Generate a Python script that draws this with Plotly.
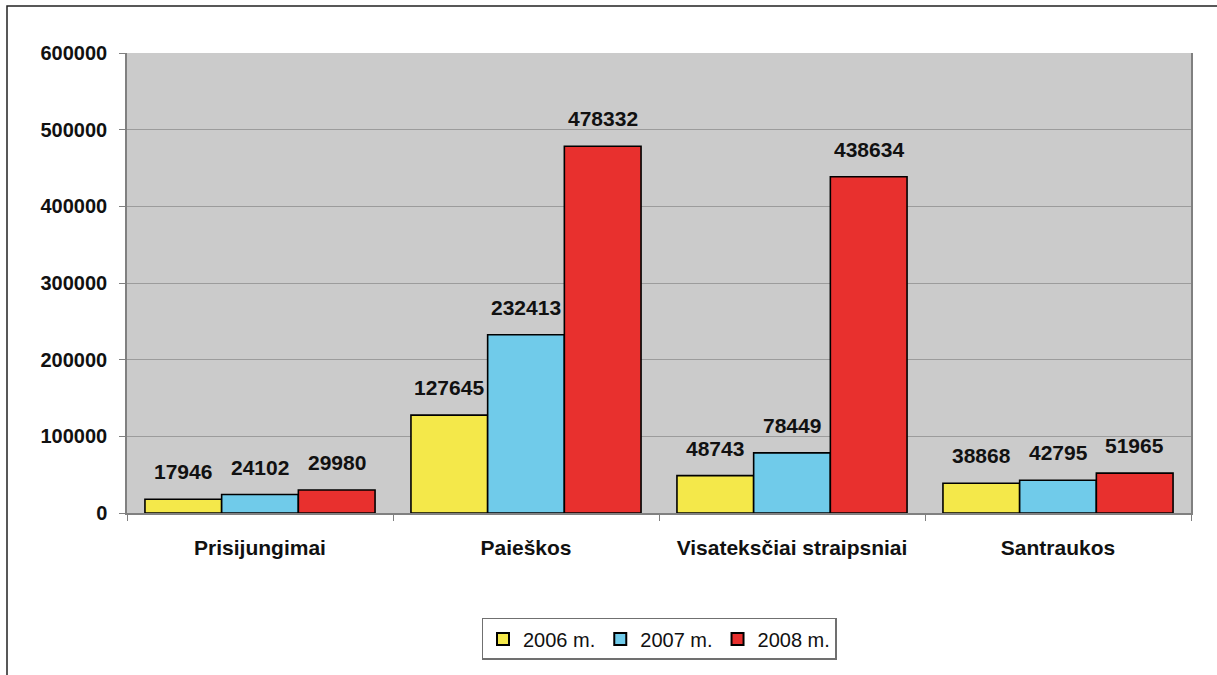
import plotly.graph_objects as go

categories = ["Prisijungimai", "Paieškos", "Visateksčiai straipsniai", "Santraukos"]
series_names = ["2006 m.", "2007 m.", "2008 m."]
values_2006 = [17946, 127645, 48743, 38868]
values_2007 = [24102, 232413, 78449, 42795]
values_2008 = [29980, 478332, 438634, 51965]
y_ticks = [0, 100000, 200000, 300000, 400000, 500000, 600000]

colors = ["#f4e84a", "#70cbea", "#e8302e"]
all_values = [values_2006, values_2007, values_2008]

fig = go.Figure()
for name, vals, col in zip(series_names, all_values, colors):
    fig.add_trace(go.Bar(
        x=categories, y=vals, name=name,
        marker=dict(color=col, line=dict(color="#000000", width=1.6)),
    ))

FONT = "Arial, Liberation Sans, sans-serif"
W, H = 1217, 675
ml, mr, mt, mb = 127, 26, 53, 162
plot_w = W - ml - mr
bargap = 0.135
bar_px = plot_w / len(categories) * (1 - bargap) / 3

annotations = []
for i, vals in enumerate(all_values):
    for c, v in zip(categories, vals):
        annotations.append(dict(
            x=c, y=v, xref="x", yref="y", text=f"<b>{v}</b>", showarrow=False,
            xshift=(i - 1) * bar_px, yshift=14, yanchor="bottom",
            font=dict(family=FONT, size=21, color="#111111"),
        ))

fig.update_layout(
    width=W, height=H,
    margin=dict(l=ml, r=mr, t=mt, b=mb),
    paper_bgcolor="white", plot_bgcolor="#cbcbcb",
    barmode="group", bargap=bargap, bargroupgap=0,
    showlegend=True,
    legend=dict(orientation="h", x=0.5, xanchor="center", y=-0.228, yanchor="top",
                bordercolor="#707070", borderwidth=1.5, bgcolor="white",
                font=dict(family=FONT, size=20, color="#111111"),
                itemsizing="constant", traceorder="normal", itemwidth=30),
    annotations=annotations,
    xaxis=dict(showline=True, linecolor="#808080", linewidth=1.5,
               ticks="outside", tickson="boundaries", ticklen=6, tickcolor="#808080",
               ticklabelstandoff=15,
               tickfont=dict(family=FONT, size=21, color="#111111"),
               tickprefix="<b>", ticksuffix="</b>", showgrid=False),
    yaxis=dict(range=[0, 600000], tickvals=y_ticks, ticktext=[f"<b>{t}</b>" for t in y_ticks],
               showline=True, linecolor="#808080", linewidth=1.5, mirror=True,
               ticks="outside", ticklen=6, tickcolor="#808080", ticklabelstandoff=8,
               gridcolor="#9c9c9c", gridwidth=1,
               tickfont=dict(family=FONT, size=20, color="#111111"), zeroline=False),
    font=dict(family=FONT),
    shapes=[dict(type="rect", xref="paper", yref="paper",
                 x0=(7 - ml) / plot_w, x1=1.2, y0=-0.6, y1=(H - mb - 6) / (H - mt - mb),
                 line=dict(color="#222222", width=1.5), fillcolor="rgba(0,0,0,0)", layer="below")],
)

fig.write_html("out.html", config={"displayModeBar": False},
               post_script="document.body.style.margin='0';document.body.style.overflow='hidden';")
